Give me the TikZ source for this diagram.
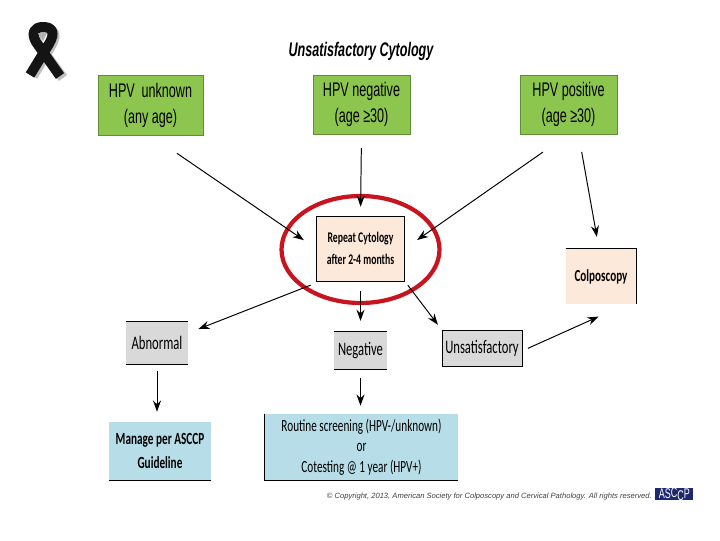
\documentclass[tikz,border=0pt]{standalone}
\usepackage{fontspec}
\setmainfont{Liberation Sans}[FakeStretch=0.64]
\newfontfamily\calfont{Carlito}[FakeStretch=0.66]
\newfontfamily\copyfont{Liberation Sans}
\definecolor{hpvgreen}{RGB}{140, 198, 78}
\definecolor{peach1}{RGB}{253, 233, 217}
\definecolor{grey1}{RGB}{217, 217, 217}
\definecolor{blue1}{RGB}{183, 222, 232}
\definecolor{red1}{RGB}{200, 20, 30}
\definecolor{navy1}{RGB}{30, 40, 110}
\usetikzlibrary{shapes, arrows.meta, calc}
\tikzset{
  hpvbox/.style={fill=hpvgreen, draw=hpvgreen!70!black, line width=0.3pt, align=center, font=\fontsize{14}{18.5}\selectfont, inner sep=0pt},
  resultbox/.style={fill=grey1, align=center, font=\calfont\fontsize{13.6}{15}\selectfont, inner sep=0pt},
  stepbox/.style={fill=peach1, align=center, font=\calfont\bfseries\fontsize{10.5}{15.5}\selectfont, inner sep=0pt},
  carebox/.style={fill=blue1, align=center, font=\calfont\fontsize{12.1}{14.5}\selectfont, inner sep=0pt},
  rim/.style={line width=0.6pt, black},
  band/.style={line width=0.25cm, line join=round},
  link/.style={-{Stealth[length=0.28cm,width=0.2cm]}, line width=0.7pt}
}

\begin{document}
\begin{tikzpicture}[x=0.025cm, y=-0.025cm]
  \useasboundingbox (0,0) rectangle (720,540);

  % Ribbon
  \draw[band, black!25] (33,76) -- (51,46) .. controls (58,34) and (54,29) .. (45,29) .. controls (36,29) and (33,35) .. (38,44) -- (63,78);
  \draw[band, black!92] (30,75) -- (49,44) .. controls (56,32) and (52,27) .. (43,27) .. controls (34,27) and (31,33) .. (36,42) -- (60,76);
  \fill[black!30] (38,33) -- (47,33) -- (43,41) -- cycle;

  % Title
  \node (title) at (361,51) {\fontsize{14}{16}\selectfont\bfseries\itshape Unsatisfactory Cytology};

  % Top row
  \node[hpvbox, minimum width=105*0.025cm, minimum height=60*0.025cm] (hpvunk) at (150.5,105) {HPV\, unknown\\(any age)};
  \node[hpvbox, minimum width=97*0.025cm, minimum height=59*0.025cm] (hpvneg) at (361.5,104.5) {HPV negative\\(age ≥30)};
  \node[hpvbox, minimum width=97*0.025cm, minimum height=59*0.025cm] (hpvpos) at (568.5,104.5) {HPV positive\\(age ≥30)};

  % Repeat
  \node[stepbox, draw=black, line width=0.6pt, minimum width=88*0.025cm, minimum height=65*0.025cm] (repeat) at (360.5,248.5) {Repeat Cytology\\after 2-4 months};
  \node[draw=red1, line width=3pt, ellipse, minimum width=158*0.025cm, minimum height=107*0.025cm, inner sep=0pt] (ring) at (360.5,249.5) {};
  \node[stepbox, font=\calfont\bfseries\fontsize{12}{14}\selectfont, minimum width=70*0.025cm, minimum height=55*0.025cm] (colpo) at (601,276.5) {Colposcopy};

  % Results
  \node[resultbox, minimum width=62*0.025cm, minimum height=42*0.025cm] (abn) at (157,343) {Abnormal};
  \node[resultbox, minimum width=53*0.025cm, minimum height=37*0.025cm] (neg) at (360.5,350.5) {\raisebox{-1.5pt}{Negative}};
  \node[resultbox, draw=black, line width=0.6pt, minimum width=80*0.025cm, minimum height=36*0.025cm] (unsat) at (482,348) {\raisebox{-1.5pt}{Unsatisfactory}};

  % Outcomes
  \node[carebox, font=\calfont\bfseries\fontsize{12.1}{16.5}\selectfont, minimum width=102*0.025cm, minimum height=58*0.025cm] (manage) at (160,451) {Manage per ASCCP\\Guideline};
  \node[carebox, minimum width=193*0.025cm, minimum height=66*0.025cm] (routine) at (361.5,447) {Routine screening (HPV-/unknown)\\or\\Cotesting @ 1 year (HPV+)};

  % Box edges
  \draw[rim] (abn.north west) -- (abn.north east) (abn.south west) -- (abn.south east);
  \draw[rim] (neg.north west) -- (neg.north east) (neg.south west) -- (neg.south east);
  \draw[rim] (colpo.north west) -- (colpo.north east) -- (colpo.south east);
  \draw[rim] (manage.south west) -- (manage.south east);
  \draw[rim] (routine.north west) -- (routine.south west) -- (routine.south east);

  % Arrows
  \draw[link, shorten <=0.8cm, shorten >=0.37cm] (hpvunk.south) -- (repeat.west);
  \draw[link, shorten <=0.35cm, shorten >=0.22cm] (hpvneg.south) -- (repeat.north);
  \draw[link, shorten <=0.78cm, shorten >=0.37cm] (hpvpos.south) -- (repeat.east);
  \draw[link, shorten <=0.45cm, shorten >=0.3cm] ([xshift=0.25cm]hpvpos.south) -- ([xshift=-0.05cm]colpo.north);
  \draw[link, shorten <=0.25cm, shorten >=0.27cm] ([xshift=0.1cm]repeat.south west) -- ([yshift=0.25cm]abn.east);
  \draw[link, shorten <=0.25cm, shorten >=0.27cm] (repeat.south) -- (neg.north);
  \draw[link, shorten <=0.12cm, shorten >=0.15cm] (repeat.south east) -- (unsat.north west);
  \draw[link, shorten <=0.15cm, shorten >=0.75cm] ([yshift=-0.07cm]unsat.east) -- ([xshift=0.625cm]colpo.south);
  \draw[link, shorten <=0.17cm, shorten >=0.25cm] (abn.south) -- (abn.south |- manage.north);
  \draw[link, shorten <=0.22cm, shorten >=0.2cm] (neg.south) -- (neg.south |- routine.north);

  % Footer
  \node[anchor=east, inner sep=0pt, text=black!75] (rights) at (652,497) {\copyfont\itshape\fontsize{5.4}{7}\selectfont © Copyright, 2013, American Society for Colposcopy and Cervical Pathology. All rights reserved.};
  \node[anchor=west, fill=navy1, text=white, inner sep=0pt, minimum width=38*0.025cm, minimum height=12*0.025cm, font=\fontsize{10}{10}\selectfont] (logo) at (655,494) {AS\raisebox{1pt}{C}\raisebox{-1pt}{C}P};
\end{tikzpicture}
\end{document}
